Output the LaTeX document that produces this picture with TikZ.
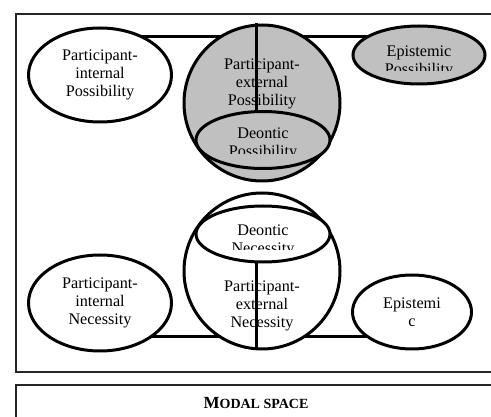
\documentclass[tikz,border=0pt]{standalone}
\usepackage{fontspec}
\setmainfont{Liberation Serif}
\usetikzlibrary{shapes.geometric,backgrounds}
\definecolor{silv}{HTML}{C0C0C0}
\tikzset{
 oval/.style={ellipse,draw,line width=3pt,inner sep=0pt},
 ball/.style={circle,draw,line width=3pt,inner sep=0pt,minimum size=156pt},
 lbl/.style={align=center,font=\fontsize{16.2}{18}\selectfont,inner sep=0pt},
 bar/.style={line width=3pt},
 frame/.style={line width=1.2pt,draw=black!85}
}
\begin{document}
\begin{tikzpicture}[x=1pt,y=-1pt]
 \useasboundingbox (0,0) rectangle (491,417);
 \draw[frame] (16,14) rectangle (500,372); %upper frame
 \draw[frame] (16,385) rectangle (500,430); %lower frame
 %possibility
 \node[oval,fill=white,minimum width=143pt,minimum height=94pt,lbl] (intpos) at (100,75) {Participant-\\internal\\Possibility};
 \node[ball,fill=silv] (extpos) at (262,103) {};
 \node[lbl] (extpostxt) at (262,84) {Participant-\\external\\Possibility};
 \node[oval,fill=silv,minimum width=134pt,minimum height=57pt] (deopos) at (263,140) {};
 \begin{scope}
  \clip (195,110) rectangle (332,154);
  \node[lbl] (deopostxt) at (263,144) {Deontic\\Possibility};
 \end{scope}
 \draw[bar] (extpos.north -| 256,0) -- (deopos.north -| 256,0);
 \node[oval,fill=silv,minimum width=132pt,minimum height=58pt] (epipos) at (419,55) {};
 \begin{scope}
  \clip (352,25) rectangle (487,71);
  \node[lbl] (epipostxt) at (419,62) {Epistemic\\Possibility};
 \end{scope}
 \begin{scope}[on background layer]
  \draw[bar] (intpos.center |- 0,37) -- (epipos.center |- 0,37);
 \end{scope}
 %necessity
 \node[ball,fill=white] (extnec) at (262,271) {};
 \node[lbl] (extnectxt) at (262,306) {Participant-\\external\\Necessity};
 \node[oval,fill=white,minimum width=134pt,minimum height=56pt] (deonec) at (263,234) {};
 \begin{scope}
  \clip (195,205) rectangle (332,250);
  \node[lbl] (deonectxt) at (263,241) {Deontic\\Necessity};
 \end{scope}
 \draw[bar] (deonec.south -| 256,0) -- (extnec.south -| 256,0);
 \node[oval,fill=white,minimum width=143pt,minimum height=96pt,lbl] (intnec) at (100,303) {Participant-\\internal\\Necessity};
 \node[oval,fill=white,minimum width=119pt,minimum height=74pt,lbl] (epinec) at (412,312) {Epistemi\\c};
 \begin{scope}[on background layer]
  \draw[bar] (intnec.center |- 0,337) -- (epinec.center |- 0,337);
 \end{scope}
 \node[font=\bfseries] (modal) at (256,403) {\fontsize{17}{20}\selectfont M\fontsize{14}{16}\selectfont ODAL SPACE};
\end{tikzpicture}
\end{document}
